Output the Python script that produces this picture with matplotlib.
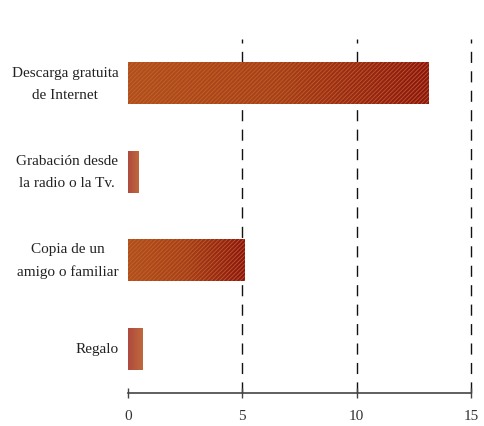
import matplotlib
matplotlib.use('Agg')
import matplotlib.pyplot as plt
import numpy as np
from matplotlib.colors import LinearSegmentedColormap

plt.rcParams['font.family'] = ['Liberation Serif', 'DejaVu Serif']
plt.rcParams['hatch.linewidth'] = 0.6

# data (top to bottom)
categories = ['Descarga gratuita\nde Internet', 'Grabación desde\nla radio o la Tv.',
              'Copia de un\namigo o familiar', 'Regalo']
values = [13.15, 0.48, 5.1, 0.65]
xticks = [0, 5, 10, 15]

fig = plt.figure(figsize=(4.84, 4.27), dpi=100)
ax = fig.add_axes([0.2645, 0.0773, 0.7085, 0.8290])

ypos = np.arange(len(categories))[::-1]
bar_h = 0.48

big_cmap = LinearSegmentedColormap.from_list('big', ['#b24f1e', '#a6401a', '#8c1612'])
small_cmap = LinearSegmentedColormap.from_list('small', ['#ae4a40', '#c0683c'])

grad = np.linspace(0, 1, 256).reshape(1, -1)
for y, v in zip(ypos, values):
    bars = ax.barh(y, v, height=bar_h, color='none', edgecolor='none')
    rect = bars[0]
    cmap = big_cmap if v > 2 else small_cmap
    im = ax.imshow(grad, cmap=cmap, aspect='auto',
                   extent=[0, v, y - bar_h / 2, y + bar_h / 2], zorder=2)
    im.set_clip_path(rect)
    if v > 2:
        ax.barh(y, v, height=bar_h, color='none', edgecolor='#c8682a',
                hatch='////////', linewidth=0, zorder=3, alpha=0.8)

ax.set_xlim(0, 15)
ax.set_ylim(-0.5, 3.5)
ax.set_xticks(xticks)
ax.set_xticklabels([str(t) for t in xticks], fontsize=11, color='#333333')
ax.set_yticks(ypos)
ax.set_yticklabels(categories, fontsize=11, color='#222222', ha='right',
                   va='center', multialignment='center')
for lbl in ax.get_yticklabels():
    lbl.set_linespacing(1.9)
ax.tick_params(axis='y', length=0, pad=7)
ax.tick_params(axis='x', direction='inout', length=7, width=1, color='#444444', pad=8)

for t in xticks[1:]:
    ax.axvline(t, color='#111111', linestyle=(0, (8, 6)), linewidth=1, zorder=1,
               clip_on=False)

for s in ['left', 'right', 'top']:
    ax.spines[s].set_visible(False)
ax.spines['bottom'].set_color('#444444')
ax.spines['bottom'].set_linewidth(1.2)

plt.savefig('out.png', dpi=100)
